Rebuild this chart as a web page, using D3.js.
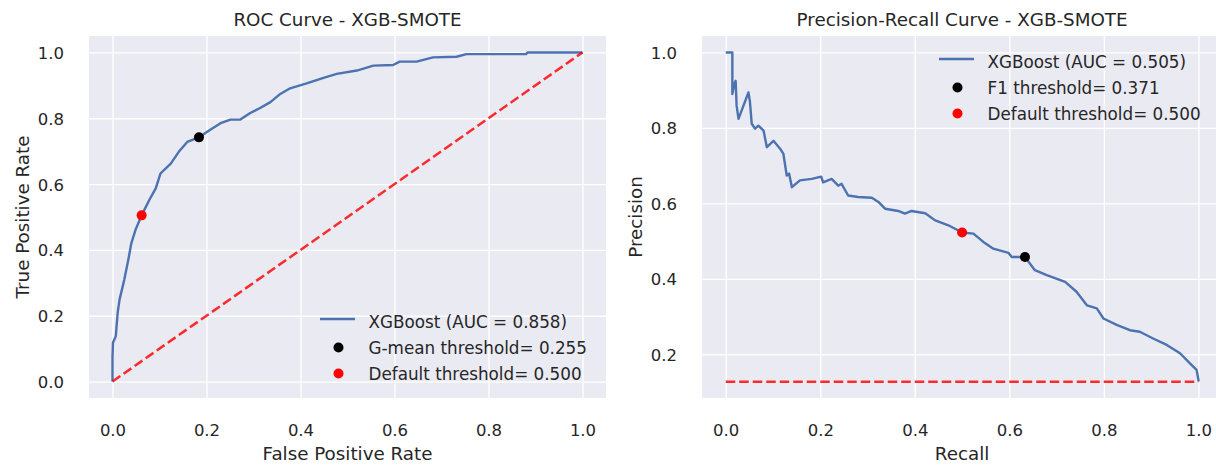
<!DOCTYPE html>
<html>
<head>
<meta charset="utf-8">
<script src="https://cdn.jsdelivr.net/npm/d3@7"></script>
<style>
  html, body { margin: 0; padding: 0; background: #ffffff; }
  svg { display: block; font-family: "DejaVu Sans", sans-serif; }
</style>
</head>
<body>
<svg id="chart" width="1216" height="466"></svg>
<script>
// ---------------- DATA ----------------
const rocTitle = "ROC Curve - XGB-SMOTE";
const prTitle = "Precision-Recall Curve - XGB-SMOTE";

const xTickValues = [0.0, 0.2, 0.4, 0.6, 0.8, 1.0];
const rocYTickValues = [0.0, 0.2, 0.4, 0.6, 0.8, 1.0];
const prYTickValues = [0.2, 0.4, 0.6, 0.8, 1.0];

const rocFpr = [0.000, 0.000, 0.001, 0.007, 0.011, 0.015, 0.025, 0.035, 0.040, 0.049, 0.062,
  0.078, 0.092, 0.102, 0.109, 0.124, 0.141, 0.159, 0.184, 0.208, 0.230, 0.251, 0.272, 0.293,
  0.315, 0.336, 0.357, 0.378, 0.413, 0.449, 0.477, 0.520, 0.555, 0.597, 0.611, 0.647, 0.682,
  0.732, 0.753, 0.880, 0.883, 1.000];
const rocTpr = [0.000, 0.073, 0.118, 0.138, 0.209, 0.249, 0.309, 0.380, 0.420, 0.461, 0.505,
  0.551, 0.587, 0.632, 0.642, 0.662, 0.698, 0.728, 0.742, 0.765, 0.785, 0.796, 0.796, 0.816,
  0.832, 0.849, 0.874, 0.891, 0.906, 0.923, 0.935, 0.945, 0.960, 0.962, 0.972, 0.972, 0.985,
  0.987, 0.995, 0.995, 1.000, 1.000];

const prRecall = [0.000, 0.014, 0.014, 0.018, 0.021, 0.023, 0.027, 0.048, 0.051, 0.055, 0.062,
  0.069, 0.080, 0.087, 0.101, 0.115, 0.122, 0.129, 0.134, 0.140, 0.157, 0.182, 0.202, 0.206,
  0.224, 0.238, 0.245, 0.259, 0.280, 0.309, 0.323, 0.337, 0.365, 0.379, 0.393, 0.422, 0.443,
  0.471, 0.500, 0.524, 0.545, 0.566, 0.598, 0.605, 0.633, 0.654, 0.679, 0.718, 0.742, 0.764,
  0.785, 0.799, 0.827, 0.855, 0.876, 0.904, 0.933, 0.961, 0.982, 0.996, 1.000, 1.000];
const prPrecision = [1.000, 1.000, 0.890, 0.916, 0.925, 0.859, 0.824, 0.894, 0.872, 0.811, 0.798,
  0.806, 0.793, 0.749, 0.766, 0.745, 0.731, 0.674, 0.679, 0.643, 0.661, 0.665, 0.671, 0.656,
  0.665, 0.647, 0.652, 0.621, 0.617, 0.615, 0.604, 0.586, 0.580, 0.573, 0.580, 0.574, 0.555,
  0.542, 0.523, 0.520, 0.498, 0.480, 0.469, 0.458, 0.458, 0.423, 0.410, 0.392, 0.366, 0.330,
  0.322, 0.295, 0.278, 0.264, 0.260, 0.242, 0.225, 0.203, 0.176, 0.159, 0.132, 0.128];

const rocBaseX = [0, 1];
const rocBaseY = [0, 1];
const prBaseX = [0, 1];
const prBaseY = [0.1276, 0.1276];

const rocMarkers = [
  { label: "G-mean threshold= 0.255", x: 0.184, y: 0.742, color: "#000000" },
  { label: "Default threshold= 0.500", x: 0.062, y: 0.505, color: "#ff0000" }
];
const prMarkers = [
  { label: "F1 threshold= 0.371", x: 0.633, y: 0.458, color: "#000000" },
  { label: "Default threshold= 0.500", x: 0.500, y: 0.523, color: "#ff0000" }
];
const rocCurveLabel = "XGBoost (AUC = 0.858)";
const prCurveLabel = "XGBoost (AUC = 0.505)";

// ---------------- DRAW ----------------
const svg = d3.select("#chart");
const TEXT = "#262626";
const BG = "#eaeaf2";
const BLUE = "#4c72b0";
const RED = "#ff0000";
const fmt = d3.format(".1f");

function panel(cfg) {
  const x = d3.scaleLinear().domain(cfg.xDomain).range(cfg.xRange);
  const y = d3.scaleLinear().domain(cfg.yDomain).range(cfg.yRange);
  const clipId = "clip" + cfg.id;
  const g = svg.append("g");

  g.append("clipPath").attr("id", clipId).append("rect")
    .attr("x", cfg.xRange[0]).attr("y", cfg.yRange[1])
    .attr("width", cfg.xRange[1] - cfg.xRange[0])
    .attr("height", cfg.yRange[0] - cfg.yRange[1]);

  g.append("rect")
    .attr("x", cfg.xRange[0]).attr("y", cfg.yRange[1])
    .attr("width", cfg.xRange[1] - cfg.xRange[0])
    .attr("height", cfg.yRange[0] - cfg.yRange[1])
    .attr("fill", BG);

  // grid via axes
  const gx = g.append("g").attr("transform", `translate(0,${cfg.yRange[0]})`)
    .call(d3.axisBottom(x).tickValues(xTickValues).tickFormat(fmt)
      .tickSize(-(cfg.yRange[0] - cfg.yRange[1])).tickPadding(0));
  gx.select(".domain").remove();
  gx.selectAll(".tick line").attr("stroke", "#ffffff").attr("stroke-width", 1.3);
  gx.selectAll(".tick text").attr("fill", TEXT).attr("font-size", 16.5)
    .attr("font-family", "DejaVu Sans").attr("dy", null).attr("y", 37.5);

  const gy = g.append("g").attr("transform", `translate(${cfg.xRange[0]},0)`)
    .call(d3.axisLeft(y).tickValues(cfg.yTicks).tickFormat(fmt)
      .tickSize(-(cfg.xRange[1] - cfg.xRange[0])).tickPadding(0));
  gy.select(".domain").remove();
  gy.selectAll(".tick line").attr("stroke", "#ffffff").attr("stroke-width", 1.3);
  gy.selectAll(".tick text").attr("fill", TEXT).attr("font-size", 16.5)
    .attr("font-family", "DejaVu Sans").attr("x", -25).attr("dy", "0.36em");

  const plot = g.append("g").attr("clip-path", `url(#${clipId})`);

  const line = d3.line().x(d => x(d[0])).y(d => y(d[1]));
  plot.append("path")
    .datum(cfg.curveX.map((v, i) => [v, cfg.curveY[i]]))
    .attr("d", line).attr("fill", "none").attr("stroke", BLUE)
    .attr("stroke-width", 2.4).attr("stroke-linejoin", "round");

  plot.append("path")
    .datum(cfg.baseX.map((v, i) => [v, cfg.baseY[i]]))
    .attr("d", line).attr("fill", "none").attr("stroke", RED)
    .attr("stroke-opacity", 0.82)
    .attr("stroke-width", 2.5).attr("stroke-dasharray", "9.5,4");

  plot.selectAll("circle.mk").data(cfg.markers).enter().append("circle")
    .attr("class", "mk")
    .attr("cx", d => x(d.x)).attr("cy", d => y(d.y)).attr("r", 5)
    .attr("fill", d => d.color);

  // title
  g.append("text").attr("x", (cfg.xRange[0] + cfg.xRange[1]) / 2).attr("y", 26)
    .attr("text-anchor", "middle").attr("fill", TEXT).attr("font-size", 18.3)
    .text(cfg.title);
  // x label
  g.append("text").attr("x", (cfg.xRange[0] + cfg.xRange[1]) / 2).attr("y", 460)
    .attr("text-anchor", "middle").attr("fill", TEXT).attr("font-size", 18.3)
    .text(cfg.xLabel);
  // y label
  g.append("text")
    .attr("transform", `translate(${cfg.xRange[0] - 60.5},${(cfg.yRange[0] + cfg.yRange[1]) / 2}) rotate(-90)`)
    .attr("text-anchor", "middle").attr("fill", TEXT).attr("font-size", 18.3)
    .text(cfg.yLabel);

  // legend
  const L = cfg.legend;
  const lg = g.append("g");
  lg.append("line").attr("x1", L.x).attr("x2", L.x + 35)
    .attr("y1", L.y - 2.5).attr("y2", L.y - 2.5)
    .attr("stroke", BLUE).attr("stroke-width", 2.4);
  lg.append("text").attr("x", L.x + 48.5).attr("y", L.y).attr("dy", "0.36em")
    .attr("fill", TEXT).attr("font-size", 16.8).text(cfg.curveLabel);
  cfg.markers.forEach((m, i) => {
    const yy = L.y + (i + 1) * 26;
    lg.append("circle").attr("cx", L.x + 18.5).attr("cy", yy).attr("r", 5).attr("fill", m.color);
    lg.append("text").attr("x", L.x + 48.5).attr("y", yy).attr("dy", "0.36em")
      .attr("fill", TEXT).attr("font-size", 16.8).text(m.label);
  });
}

panel({
  id: "roc",
  xDomain: [-0.05, 1.05], xRange: [89, 606],
  yDomain: [-0.05, 1.05], yRange: [398, 36],
  yTicks: rocYTickValues,
  curveX: rocFpr, curveY: rocTpr,
  baseX: rocBaseX, baseY: rocBaseY,
  markers: rocMarkers,
  title: rocTitle, xLabel: "False Positive Rate", yLabel: "True Positive Rate",
  curveLabel: rocCurveLabel,
  legend: { x: 320, y: 321.5 }
});

panel({
  id: "pr",
  xDomain: [-0.05, 1.05], xRange: [702.1, 1222.1],
  yDomain: [0.0844, 1.0436], yRange: [398, 36],
  yTicks: prYTickValues,
  curveX: prRecall, curveY: prPrecision,
  baseX: prBaseX, baseY: prBaseY,
  markers: prMarkers,
  title: prTitle, xLabel: "Recall", yLabel: "Precision",
  curveLabel: prCurveLabel,
  legend: { x: 939, y: 61.5 }
});
</script>
</body>
</html>
